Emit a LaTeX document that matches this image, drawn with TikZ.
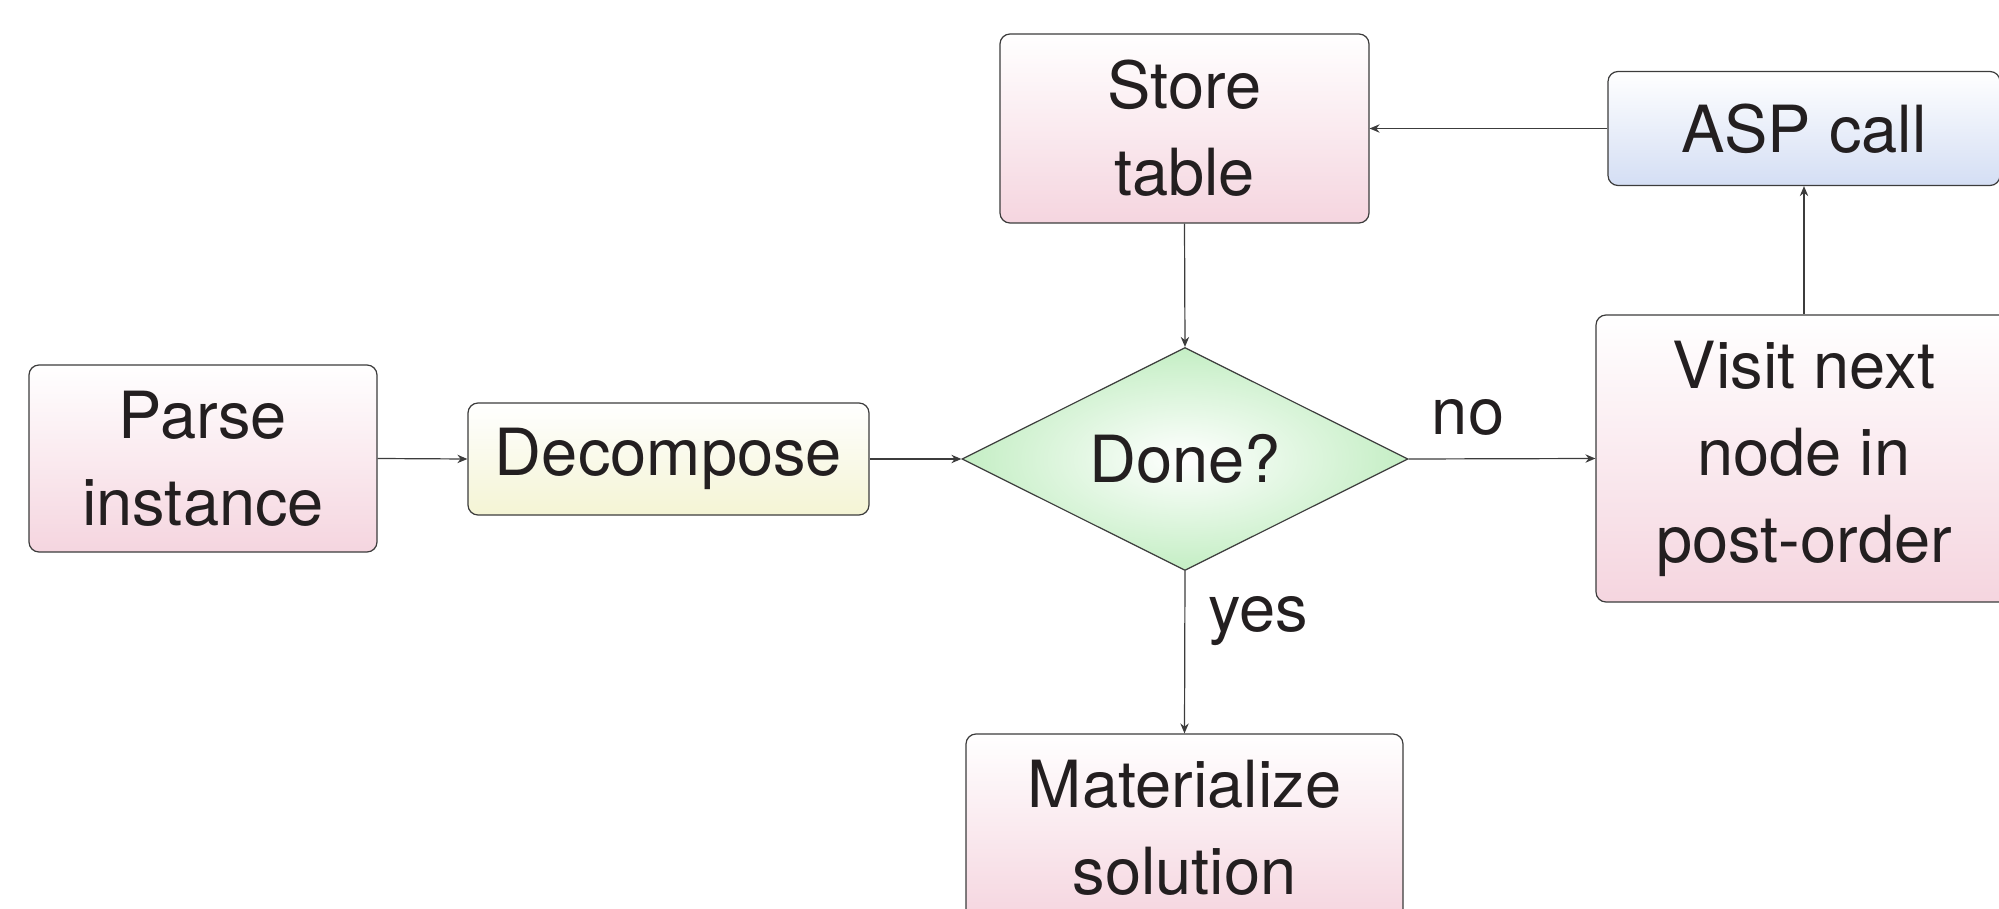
\documentclass[tikz,border=0pt]{standalone}
\usepackage{fontspec}
\setmainfont{TeX Gyre Heros}
\usetikzlibrary{shapes.geometric,arrows.meta,calc}
\definecolor{pinkb}{RGB}{245,213,223}
\definecolor{yellowb}{RGB}{244,244,212}
\definecolor{blueb}{RGB}{212,222,244}
\definecolor{greenb}{RGB}{196,238,196}
\definecolor{linec}{RGB}{60,60,60}
\definecolor{textc}{RGB}{35,31,32}
\tikzset{
  box/.style={draw=linec, line width=0.6pt, rounded corners=5pt, align=center,
    inner sep=0pt, text=textc, font=\fontsize{32.5}{43.5}\selectfont},
  pinkbox/.style={box, top color=white, bottom color=pinkb},
  yellowbox/.style={box, top color=white, bottom color=yellowb},
  bluebox/.style={box, top color=white, bottom color=blueb},
  decision/.style={diamond, shape aspect=2, draw=linec, line width=0.6pt, inner color=white, outer color=greenb,
    inner sep=0pt, text=textc, font=\fontsize{32.5}{43.5}\selectfont, align=center},
  conn/.style={draw=linec, line width=0.6pt, -{Stealth[length=5pt,width=4.2pt]}},
  lbl/.style={text=textc, font=\fontsize{32.5}{43.5}\selectfont, inner sep=0pt, anchor=base}
}
\begin{document}
\begin{tikzpicture}[x=0.5pt,y=-0.5pt]
\useasboundingbox (0,0) rectangle (1999,909);
\node[pinkbox, minimum width=174pt, minimum height=93.5pt] (parse) at (203,458.5) {Parse\\instance};
\node[yellowbox, minimum width=200.5pt, minimum height=56pt] (decomp) at (668.5,459) {Decompose};
\node[decision, minimum width=223pt, minimum height=111.5pt] (done) at (1185,459) {Done?};
\node[pinkbox, minimum width=184.5pt, minimum height=94.5pt] (store) at (1184.5,128.5) {Store\\table};
\node[bluebox, minimum width=196pt, minimum height=57pt] (asp) at (1804,128.5) {ASP call};
\node[pinkbox, minimum width=208pt, minimum height=143.5pt] (visit) at (1804,458.5) {Visit next\\node in\\post-order};
\node[pinkbox, minimum width=218.5pt, minimum height=94pt] (mat) at (1184.5,828) {Materialize\\solution};
\node[lbl] (no) at (1468,435) {no};
\node[lbl] (yes) at (1258,631) {yes};
\draw[conn] (parse.east) -- (decomp.west);
\draw[conn] (decomp.east) -- (done.west);
\draw[conn] (store.south) -- (done.north);
\draw[conn] (done.east) -- (visit.west);
\draw[conn] (done.south) -- (mat.north);
\draw[conn] (visit.north) -- (asp.south);
\draw[conn] (asp.west) -- (store.east);
\end{tikzpicture}
\end{document}
